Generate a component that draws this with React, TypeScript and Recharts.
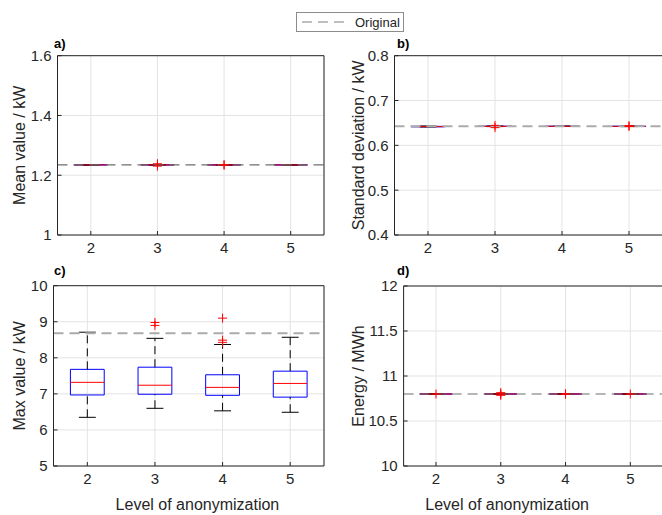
import { ComposedChart, XAxis, YAxis, CartesianGrid, Scatter, ReferenceLine, ReferenceArea } from "recharts"

const levels = [2, 3, 4, 5]

// a) mean value / kW
const meanTicks = [1, 1.2, 1.4, 1.6]
const meanOriginal = 1.2346
const meanLow = [1.2339, 1.234, 1.2341, 1.234]
const meanQ1 = [1.2343, 1.2344, 1.2344, 1.2343]
const meanMed = [1.2346, 1.2346, 1.2346, 1.2346]
const meanQ3 = [1.2349, 1.2348, 1.2348, 1.2349]
const meanHigh = [1.2353, 1.2352, 1.2351, 1.2352]
const meanOut = [[], [1.2305, 1.2385], [1.234, 1.2352], []]

// b) standard deviation / kW
const stdTicks = [0.4, 0.5, 0.6, 0.7, 0.8]
const stdOriginal = 0.6425
const stdLow = [0.641, 0.6418, 0.642, 0.6418]
const stdQ1 = [0.6413, 0.6421, 0.6422, 0.6421]
const stdMed = [0.6418, 0.6424, 0.6425, 0.6424]
const stdQ3 = [0.6424, 0.6428, 0.6428, 0.6428]
const stdHigh = [0.6432, 0.6432, 0.643, 0.6433]
const stdOut = [[], [0.6395, 0.6445], [], [0.642, 0.644]]

// c) max value / kW
const maxTicks = [5, 6, 7, 8, 9, 10]
const maxOriginal = 8.68
const maxLow = [6.35, 6.6, 6.53, 6.49]
const maxQ1 = [6.97, 6.99, 6.96, 6.91]
const maxMed = [7.32, 7.24, 7.18, 7.29]
const maxQ3 = [7.68, 7.74, 7.53, 7.63]
const maxHigh = [8.71, 8.54, 8.37, 8.57]
const maxOut = [[], [8.9, 8.98], [8.43, 8.49, 9.1], []]

// d) energy / MWh
const energyTicks = [10, 10.5, 11, 11.5, 12]
const energyOriginal = 10.8
const energyLow = [10.797, 10.797, 10.797, 10.797]
const energyQ1 = [10.799, 10.799, 10.799, 10.799]
const energyMed = [10.8, 10.8, 10.8, 10.8]
const energyQ3 = [10.801, 10.801, 10.801, 10.801]
const energyHigh = [10.803, 10.803, 10.803, 10.803]
const energyOut = [[10.8], [10.785, 10.8, 10.815], [10.798, 10.802], [10.8]]

const INK = "#262626"
const FONT = "'Liberation Sans', Arial, Helvetica, sans-serif"

type Stats = { low: number[]; q1: number[]; med: number[]; q3: number[]; high: number[]; out: number[][] }

function Plus(props: any) {
  const { cx, cy } = props
  if (cx == null || cy == null) return null
  return (
    <path
      d={`M${cx - 4.5},${cy}H${cx + 4.5}M${cx},${cy - 4.5}V${cy + 4.5}`}
      stroke="#ff0000"
      strokeWidth={1}
      fill="none"
    />
  )
}

function boxes(s: Stats) {
  return levels.flatMap((lvl, i) => [
    <ReferenceLine key={`wl${i}`} segment={[{ x: lvl, y: s.low[i] }, { x: lvl, y: s.q1[i] }]} stroke="#000" strokeDasharray="8 5" />,
    <ReferenceLine key={`wh${i}`} segment={[{ x: lvl, y: s.q3[i] }, { x: lvl, y: s.high[i] }]} stroke="#000" strokeDasharray="8 5" />,
    <ReferenceLine key={`cl${i}`} segment={[{ x: lvl - 0.125, y: s.low[i] }, { x: lvl + 0.125, y: s.low[i] }]} stroke="#000" />,
    <ReferenceLine key={`ch${i}`} segment={[{ x: lvl - 0.125, y: s.high[i] }, { x: lvl + 0.125, y: s.high[i] }]} stroke="#000" />,
    <ReferenceArea key={`b${i}`} x1={lvl - 0.25} x2={lvl + 0.25} y1={s.q1[i]} y2={s.q3[i]} fill="none" fillOpacity={0} stroke="#0000ff" strokeOpacity={1} />,
    <ReferenceLine key={`m${i}`} segment={[{ x: lvl - 0.25, y: s.med[i] }, { x: lvl + 0.25, y: s.med[i] }]} stroke="#ff0000" />,
  ])
}

interface PanelProps {
  left: number
  top: number
  width: number
  height: number
  margin: { top: number; right: number; bottom: number; left: number }
  yWidth: number
  domain: [number, number]
  ticks: number[]
  stats: Stats
  original: number
  origStroke: string
  origWidth: number
  yLabel: string
  yLabelOffset: number
  xLabel?: string
  xLabelDx?: number
}

function Panel(p: PanelProps) {
  const outliers = levels.flatMap((lvl, i) => p.stats.out[i].map((y) => ({ x: lvl, y })))
  const tickStyle = { fontSize: 15, fill: INK }
  return (
    <div style={{ position: "absolute", left: p.left, top: p.top }}>
      <ComposedChart width={p.width} height={p.height} margin={p.margin}>
        <CartesianGrid stroke="#e3e3e3" />
        <XAxis
          dataKey="x"
          type="number"
          domain={[1.5, 5.5]}
          ticks={levels}
          interval={0}
          allowDataOverflow
          height={30}
          tickSize={-4}
          tickMargin={11}
          tick={tickStyle}
          stroke={INK}
          label={p.xLabel ? { value: p.xLabel, position: "bottom", offset: 3, dx: p.xLabelDx, fontSize: 16, fill: INK } : undefined}
        />
        <XAxis xAxisId="t" orientation="top" type="number" domain={[1.5, 5.5]} ticks={levels} interval={0} height={1} tickSize={-4} tickFormatter={() => ""} stroke={INK} />
        <YAxis
          dataKey="y"
          type="number"
          domain={p.domain}
          ticks={p.ticks}
          interval={0}
          allowDataOverflow
          width={p.yWidth}
          tickSize={-4}
          tickMargin={10}
          tick={tickStyle}
          stroke={INK}
          label={{ value: p.yLabel, angle: -90, position: "insideLeft", offset: p.yLabelOffset, fontSize: 16, fill: INK, style: { textAnchor: "middle" } }}
        />
        <YAxis yAxisId="r" orientation="right" type="number" domain={p.domain} ticks={p.ticks} interval={0} width={1} tickSize={-4} tickFormatter={() => ""} stroke={INK} />
        {boxes(p.stats)}
        <Scatter data={outliers} dataKey="y" shape={<Plus />} isAnimationActive={false} />
        <ReferenceLine y={p.original} stroke={p.origStroke} strokeWidth={p.origWidth} strokeDasharray="10 6" />
      </ComposedChart>
    </div>
  )
}

function PanelTag({ text, left, top }: { text: string; left: number; top: number }) {
  return (
    <div style={{ position: "absolute", left, top, fontSize: 13, lineHeight: "13px", fontWeight: "bold", color: "#000" }}>{text}</div>
  )
}

export default function App() {
  return (
    <div style={{ position: "absolute", left: 0, top: 0, width: 662, height: 515, overflow: "hidden", background: "#fff", fontFamily: FONT }}>
      <Panel
        left={0} top={40} width={331} height={225}
        margin={{ top: 14.7, right: 6, bottom: 0, left: 12.5 }}
        yWidth={45} domain={[1, 1.6]} ticks={meanTicks}
        stats={{ low: meanLow, q1: meanQ1, med: meanMed, q3: meanQ3, high: meanHigh, out: meanOut }}
        original={meanOriginal} origStroke="#6e6e6e" origWidth={1.2}
        yLabel="Mean value / kW" yLabelOffset={7}
      />
      <Panel
        left={331} top={40} width={340} height={225}
        margin={{ top: 14.7, right: 7.5, bottom: 0, left: 18.5 }}
        yWidth={45} domain={[0.4, 0.8]} ticks={stdTicks}
        stats={{ low: stdLow, q1: stdQ1, med: stdMed, q3: stdQ3, high: stdHigh, out: stdOut }}
        original={stdOriginal} origStroke="#ababab" origWidth={2}
        yLabel="Standard deviation / kW" yLabelOffset={9}
      />
      <Panel
        left={0} top={265} width={331} height={250}
        margin={{ top: 19.7, right: 6, bottom: 19, left: 12.5 }}
        yWidth={41} domain={[5, 10]} ticks={maxTicks}
        stats={{ low: maxLow, q1: maxQ1, med: maxMed, q3: maxQ3, high: maxHigh, out: maxOut }}
        original={maxOriginal} origStroke="#ababab" origWidth={2}
        yLabel="Max value / kW" yLabelOffset={7}
        xLabel="Level of anonymization" xLabelDx={8.7}
      />
      <Panel
        left={331} top={265} width={340} height={250}
        margin={{ top: 20, right: 7.3, bottom: 19, left: 22.6 }}
        yWidth={50} domain={[10, 12]} ticks={energyTicks}
        stats={{ low: energyLow, q1: energyQ1, med: energyMed, q3: energyQ3, high: energyHigh, out: energyOut }}
        original={energyOriginal} origStroke="#6e6e6e" origWidth={1.2}
        yLabel="Energy / MWh" yLabelOffset={4.9}
        xLabel="Level of anonymization" xLabelDx={-26}
      />
      <PanelTag text="a)" left={54} top={37} />
      <PanelTag text="b)" left={397} top={37} />
      <PanelTag text="c)" left={54} top={264} />
      <PanelTag text="d)" left={397} top={264} />
      <div
        style={{
          position: "absolute", left: 296, top: 12, width: 108, height: 20, boxSizing: "border-box",
          border: "1px solid #8c8c8c", background: "#fff", display: "flex", alignItems: "center",
        }}
      >
        <svg width={58} height={18} style={{ display: "block" }}>
          <line x1={5} y1={9} x2={53} y2={9} stroke="#808080" strokeWidth={1} strokeDasharray="10 6" />
        </svg>
        <span style={{ fontSize: 13, color: INK, lineHeight: "13px" }}>Original</span>
      </div>
    </div>
  )
}
